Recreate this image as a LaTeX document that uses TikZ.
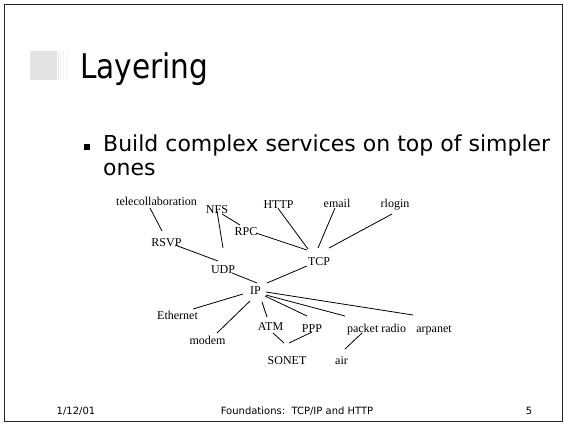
\documentclass[tikz,border=0pt]{standalone}
\usepackage{fontspec}
\setmainfont{Liberation Serif}
\newfontfamily\slidefont{DejaVu Sans}
\newfontfamily\titlefont[FakeStretch=0.87]{DejaVu Sans}
\begin{document}
\begin{tikzpicture}[x=1pt,y=-1pt,
  lbl/.style={anchor=base, inner sep=0pt, font=\fontsize{12}{14}\selectfont},
  link/.style={line width=0.8pt, black},
  foot/.style={anchor=base, inner sep=0pt, font=\slidefont\fontsize{10}{12}\selectfont},
  bodytext/.style={anchor=base west, inner sep=0pt, font=\slidefont\fontsize{22}{26}\selectfont},
]
% page and frame
\fill[white] (0,0) rectangle (564,424);
\useasboundingbox (0,0) rectangle (564,424);
\draw[line width=1.5pt, black!85] (4.5,4.5) rectangle (562.5,421.5);

% title marker: grey block with fading stripes
\fill[black!11] (30,51) rectangle (57,80);
\fill[black!7] (58,51) rectangle (59,80);
\fill[black!6] (60,51) rectangle (61,80);
\fill[black!5] (63,51) rectangle (64,80);
\fill[black!4] (67,51) rectangle (68,80);

\node[anchor=base west, inner sep=0pt, font=\titlefont\fontsize{34}{40}\selectfont] (title) at (80,78) {Layering};

% bullet point
\node[fill=black, minimum size=5.5pt, inner sep=0pt] (bullet) at (86.8,146.8) {};
\node[bodytext] (body1) at (103,151.5) {Build complex services on top of simpler};
\node[bodytext] (body2) at (103,175) {ones};

% protocol graph
\node[lbl] (tele)   at (156.5,205.7) {telecollaboration};
\node[lbl] (nfs)    at (217,213.3)   {NFS};
\node[lbl] (http)   at (278.5,208.3) {HTTP};
\node[lbl] (email)  at (337,207.3)   {email};
\node[lbl] (rlogin) at (395,207.3)   {rlogin};
\node[lbl] (rpc)    at (246,235.7)   {RPC};
\node[lbl] (rsvp)   at (166.5,246)   {RSVP};
\node[lbl] (tcp)    at (319,265)     {TCP};
\node[lbl] (udp)    at (223,273.3)   {UDP};
\node[lbl] (ip)     at (255.5,294.5) {IP};
\node[lbl] (eth)    at (177.5,319.3) {Ethernet};
\node[lbl] (modem)  at (207.5,344.3) {modem};
\node[lbl] (atm)    at (270.5,330)   {ATM};
\node[lbl] (ppp)    at (312,332.3)   {PPP};
\node[lbl] (sonet)  at (287,364.3)   {SONET};
\node[lbl] (air)    at (341.5,364)   {air};
\node[lbl] (prad)   at (376.5,332.7) {packet radio};
\node[lbl] (arpa)   at (434,332.7)   {arpanet};

\draw[link] ([shift={(-6.5,2.3)}]tele.base) -- ([shift={(-4.5,-15)}]rsvp.base);
\draw[link] ([shift={(0,-2.3)}]nfs.base) -- ([shift={(0,-25.3)}]udp.base);
\draw[link] ([shift={(5,0.7)}]nfs.base) -- ([shift={(-6,-10.7)}]rpc.base);
\draw[link] ([shift={(8.5,-1)}]rsvp.base) -- ([shift={(-5,-12.3)}]udp.base);
\draw[link] ([shift={(10,-2.7)}]rpc.base) -- ([shift={(-12,-15)}]tcp.base);
\draw[link] ([shift={(9,-0.3)}]udp.base) -- ([shift={(1.5,-11.5)}]ip.base);
\draw[link] ([shift={(-12,1)}]tcp.base) -- ([shift={(11.5,-11.5)}]ip.base);
\draw[link] ([shift={(-0.5,0)}]http.base) -- ([shift={(-11,-16)}]tcp.base);
\draw[link] ([shift={(-2,0.7)}]email.base) -- ([shift={(-1,-17)}]tcp.base);
\draw[link] ([shift={(-3,6.7)}]rlogin.base) -- ([shift={(10,-17)}]tcp.base);
\draw[link] ([shift={(-12.5,-0.5)}]ip.base) -- ([shift={(15.5,-10.3)}]eth.base);
\draw[link] ([shift={(-5.5,6.5)}]ip.base) -- ([shift={(9.5,-11.3)}]modem.base);
\draw[link] ([shift={(6.5,7.5)}]ip.base) -- ([shift={(-3.5,-13)}]atm.base);
\draw[link] ([shift={(9.5,1.5)}]ip.base) -- ([shift={(-5,-16.3)}]ppp.base);
\draw[link] ([shift={(10.5,0.5)}]ip.base) -- ([shift={(-31.5,-16.7)}]prad.base);
\draw[link] ([shift={(10.5,-2.5)}]ip.base) -- ([shift={(-21,-17.7)}]arpa.base);
\draw[link] ([shift={(2.5,3)}]atm.base) -- ([shift={(-3,-21.3)}]sonet.base);
\draw[link] ([shift={(0,-0.3)}]ppp.base) -- ([shift={(2,-21.3)}]sonet.base);
\draw[link] ([shift={(-14.5,0.3)}]prad.base) -- ([shift={(3.5,-15)}]air.base);

% footer
\node[foot] (date)  at (76,414.5)  {1/12/01};
\node[foot] (topic) at (297,414.5) {Foundations:\ \ TCP/IP and HTTP};
\node[foot] (page)  at (529,414.5) {5};
\end{tikzpicture}
\end{document}
